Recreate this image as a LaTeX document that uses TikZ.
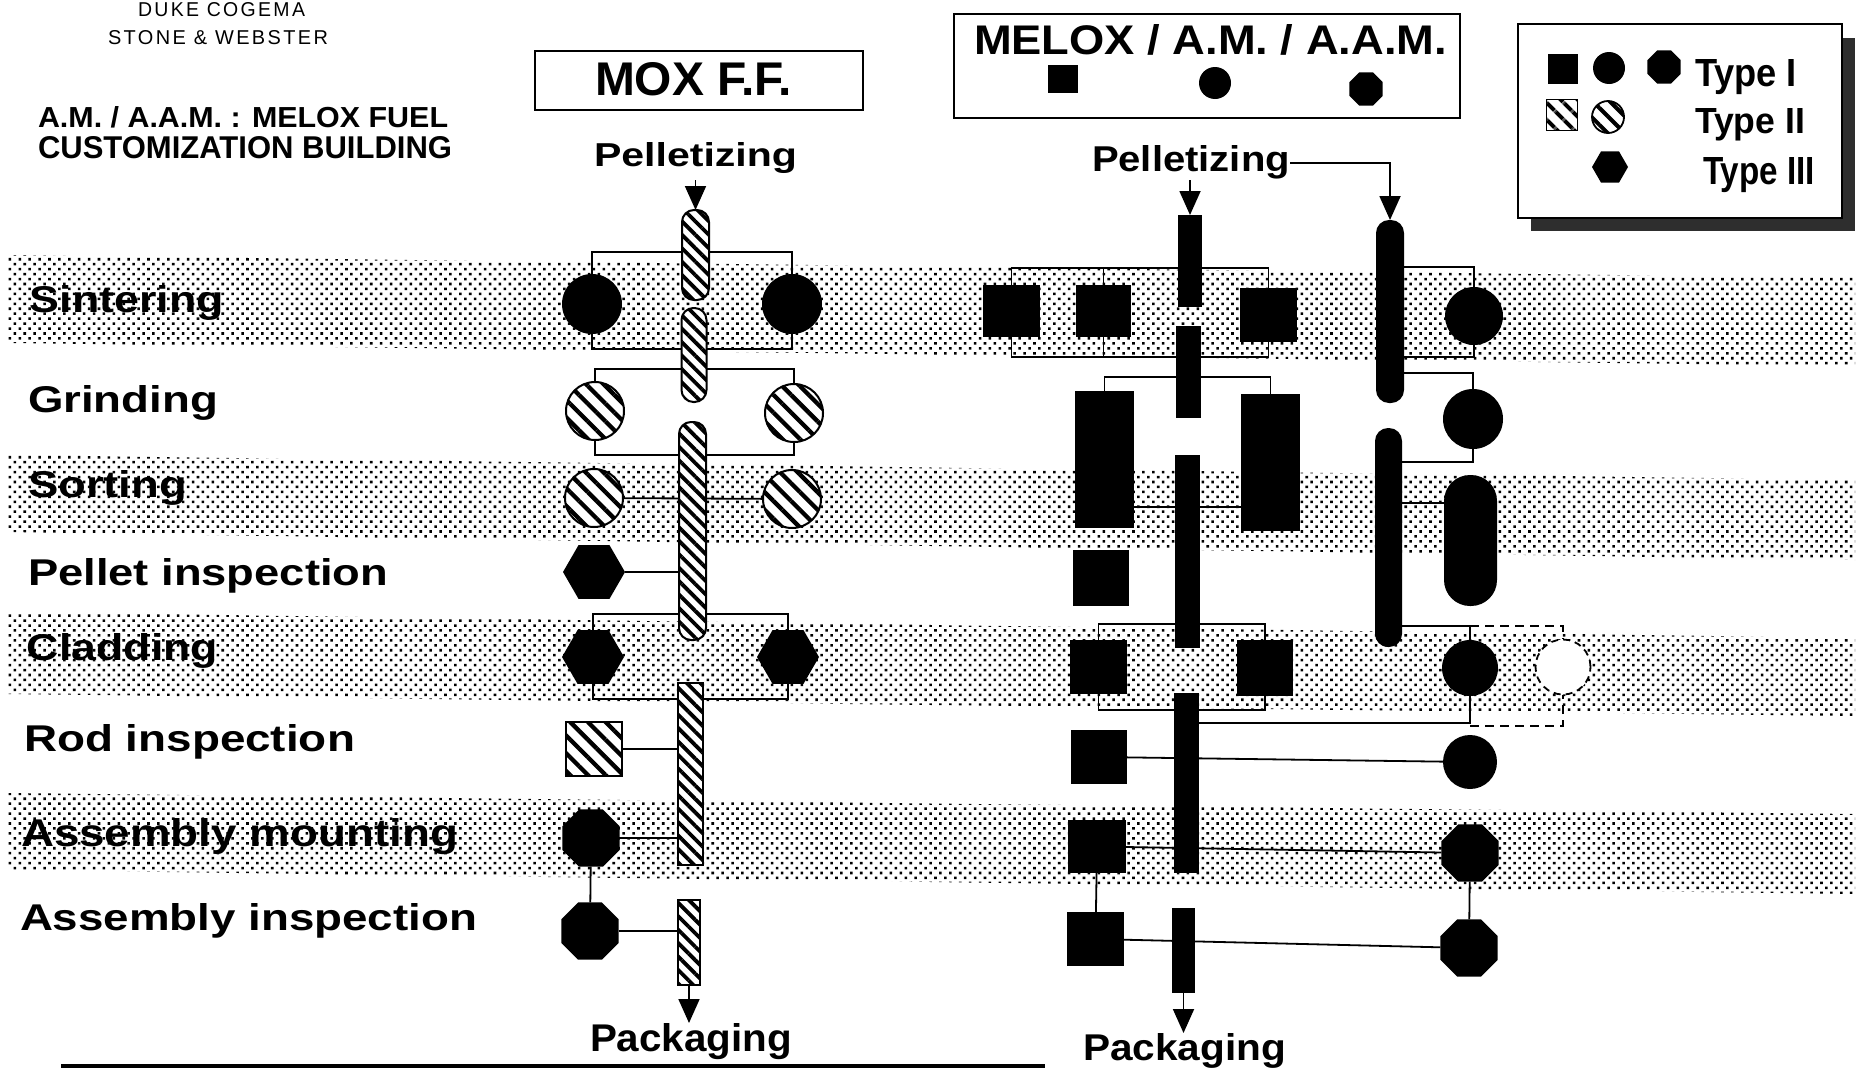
\documentclass[tikz,border=0pt]{standalone}
\usepackage{graphicx}
\usepackage{fontspec}
\setmainfont{Liberation Sans}
\newfontfamily\lightspaced[LetterSpace=12]{Liberation Sans}
\usetikzlibrary{shapes.geometric,patterns.meta,arrows.meta}
% scale a text to a given ink width and cap height (in pt)
\newcommand\fitbox[3]{\resizebox{#1pt}{#2pt}{#3}}
\pgfdeclarelayer{bands}
\pgfdeclarelayer{links}
\pgfsetlayers{bands,links,main}

\tikzset{
  lbl/.style={anchor=base west, inner sep=0pt, outer sep=0pt, font=\bfseries},
  link/.style={line width=1.8pt},
  dlink/.style={line width=1.8pt, dash pattern=on 9pt off 6pt},
  arr/.style={line width=1.8pt, -{Triangle[length=24pt,width=21pt]}},
  band/.style={pattern={Dots[angle=45,distance=7pt,radius=1.8pt]}},
  frame/.style={draw, line width=2pt, fill=white},
  blk/.style={fill=black, inner sep=0pt, outer sep=0pt},
  blksq/.style={blk, rectangle},
  bdisc/.style={blk, circle},
  bcap/.style={blk, rectangle, rounded corners=#1},
  octa/.style={blk, regular polygon, regular polygon sides=8},
  hexa/.style={blk, regular polygon, regular polygon sides=6},
  hatch/.style 2 args={draw, line width=2pt, inner sep=0pt, outer sep=0pt,
    preaction={fill=white},
    pattern={Lines[angle=-45,distance=#1,line width=#2]}},
  hcap/.style={hatch={9.5pt}{3.8pt}, rectangle, rounded corners=12pt},
  hbar/.style={hatch={9.5pt}{3.8pt}, rectangle},
  hdisc/.style={hatch={12.5pt}{4.3pt}, circle},
  hsq/.style={hatch={12.5pt}{4.3pt}, rectangle},
  ghost/.style={circle, fill=white, draw, line width=1.8pt,
    dash pattern=on 7pt off 5pt, inner sep=0pt},
}

\begin{document}
\begin{tikzpicture}[x=1pt,y=-1pt]
\useasboundingbox (0,0) rectangle (1862,1071);

\begin{pgfonlayer}{bands}
  \fill[white] (0,0) rectangle (1862,1071);
  % dotted stage bands
  \fill[band] (8,255) -- (1855,278) -- (1855,366) -- (8,343) -- cycle;
  \fill[band] (8,455) -- (1855,480) -- (1855,560) -- (8,532) -- cycle;
  \fill[band] (8,612) -- (1855,638) -- (1855,716) -- (8,694) -- cycle;
  \fill[band] (8,793) -- (1855,814) -- (1855,894) -- (8,870) -- cycle;
\end{pgfonlayer}

% ---------- headings ----------
\node[lbl, font=\lightspaced] (duke) at (138,16) {\fitbox{167}{14}{DUKE COGEMA}};
\node[lbl, font=\lightspaced] (stone) at (108,44) {\fitbox{220}{14}{STONE \& WEBSTER}};
\node[lbl] (amA) at (38,127) {\fitbox{410}{21}{A.M. / A.A.M. : MELOX FUEL}};
\node[lbl] (amB) at (38,158) {\fitbox{414}{22}{CUSTOMIZATION BUILDING}};

% ---------- stage labels ----------
\node[lbl] (tS) at (30,312) {\fitbox{194}{27}{Sintering}};
\node[lbl] (tG) at (28,412) {\fitbox{190}{27}{Grinding}};
\node[lbl] (tR) at (28,497) {\fitbox{159}{27}{Sorting}};
\node[lbl] (tP) at (28,585) {\fitbox{360}{27}{Pellet inspection}};
\node[lbl] (tC) at (27,660) {\fitbox{191}{27}{Cladding}};
\node[lbl] (tRod) at (24,751) {\fitbox{331}{27}{Rod inspection}};
\node[lbl] (tAM) at (21,846) {\fitbox{437}{28}{Assembly mounting}};
\node[lbl] (tAI) at (20,930) {\fitbox{457}{27}{Assembly inspection}};

% ---------- MOX F.F. column ----------
\draw[frame] (535,51) rectangle (863,110);
\node[lbl] (moxT) at (595,95) {\fitbox{197}{33}{MOX F.F.}};
\node[lbl] (pelA) at (594,166) {\fitbox{203}{24}{Pelletizing}};
\node[lbl] (packA) at (590,1051) {\fitbox{202}{28}{Packaging}};

\node[bdisc, minimum size=60pt] (mS1) at (592,304) {};
\node[bdisc, minimum size=60pt] (mS2) at (792,304) {};
\node[hcap, minimum width=27pt, minimum height=90pt] (mC1) at (695.5,255) {};
\node[hcap, minimum width=25pt, minimum height=94pt] (mC2) at (694,355) {};
\node[hdisc, minimum size=58pt] (mG1) at (595,411) {};
\node[hdisc, minimum size=58pt] (mG2) at (794,413) {};
\node[hdisc, minimum size=58pt] (mR1) at (594,498) {};
\node[hdisc, minimum size=58pt] (mR2) at (792,499) {};
\node[hcap, minimum width=27pt, minimum height=218pt] (mC3) at (692.5,531) {};
\node[hexa, minimum size=62pt] (mP) at (594,572) {};
\node[hexa, minimum size=62pt] (mK1) at (593,657) {};
\node[hexa, minimum size=62pt] (mK2) at (788,657) {};
\node[hsq, minimum width=56pt, minimum height=54pt] (mRod) at (594,749) {};
\node[hbar, minimum width=25pt, minimum height=182pt] (mB4) at (690.5,774) {};
\node[octa, minimum size=62pt] (mAM) at (591,838) {};
\node[octa, minimum size=62pt] (mAI) at (590,931) {};
\node[hbar, minimum width=22pt, minimum height=85pt] (mB5) at (689,942.5) {};
\coordinate (mIn) at (695.5,180);

% ---------- MELOX / A.M. / A.A.M. columns ----------
\draw[frame] (954,14) rectangle (1460,118);
\node[lbl] (meloxT) at (974,54) {\fitbox{473}{30}{MELOX / A.M. / A.A.M.}};
\node[blksq, minimum width=30pt, minimum height=28pt] (tSq) at (1063,79) {};
\node[bdisc, minimum size=32pt] (tCi) at (1215,83) {};
\node[octa, minimum size=36pt] (tOc) at (1366,89) {};
\node[lbl] (pelB) at (1092,171) {\fitbox{198}{26}{Pelletizing}};
\node[lbl] (packB) at (1083,1060) {\fitbox{203}{27}{Packaging}};

\node[blksq, minimum width=57pt, minimum height=52pt] (xS1) at (1011.5,311) {};
\node[blksq, minimum width=55pt, minimum height=52pt] (xS2) at (1103.5,311) {};
\node[blksq, minimum width=57pt, minimum height=54pt] (xS3) at (1268.5,315) {};
\node[blksq, minimum width=24pt, minimum height=92pt] (xB1) at (1190,261) {};
\node[blksq, minimum width=25pt, minimum height=92pt] (xB2) at (1188.5,372) {};
\node[blksq, minimum width=59pt, minimum height=137pt] (xG1) at (1104.5,459.5) {};
\node[blksq, minimum width=59pt, minimum height=137pt] (xG2) at (1270.5,462.5) {};
\node[blksq, minimum width=25pt, minimum height=193pt] (xB3) at (1187.5,551.5) {};
\node[blksq, minimum size=56pt] (xP) at (1101,578) {};
\node[blksq, minimum width=57pt, minimum height=54pt] (xK1) at (1098.5,667) {};
\node[blksq, minimum size=56pt] (xK2) at (1265,668) {};
\node[blksq, minimum width=25pt, minimum height=180pt] (xB4) at (1186.5,783) {};
\node[blksq, minimum width=56pt, minimum height=54pt] (xRod) at (1099,757) {};
\node[blksq, minimum width=58pt, minimum height=53pt] (xAM) at (1097,846.5) {};
\node[blksq, minimum width=57pt, minimum height=54pt] (xAI) at (1095.5,939) {};
\node[blksq, minimum width=23pt, minimum height=85pt] (xB5) at (1183.5,950.5) {};
\coordinate (xIn) at (1190,180);

\node[bcap=13pt, minimum width=28pt, minimum height=183pt] (yC1) at (1390,311.5) {};
\node[bcap=13pt, minimum width=27pt, minimum height=219pt] (yC2) at (1388.5,537.5) {};
\node[bdisc, minimum size=58pt] (yS) at (1474,316) {};
\node[bdisc, minimum size=60pt] (yG) at (1473,419) {};
\node[bcap=26pt, minimum width=53pt, minimum height=131pt] (yR) at (1470.5,540.5) {};
\node[bdisc, minimum size=56pt] (yK) at (1470,668) {};
\node[ghost, minimum size=55pt] (yKd) at (1563,667) {};
\node[bdisc, minimum size=54pt] (yRod) at (1470,762) {};
\node[octa, minimum size=62pt] (yAM) at (1470,853) {};
\node[octa, minimum size=62pt] (yAI) at (1469,948) {};

% ---------- legend ----------
\fill[black!82] (1531,38) rectangle (1855,231);
\draw[frame] (1518,24) rectangle (1842,218);
\node[blksq, minimum size=30pt] (lSq) at (1563,69) {};
\node[bdisc, minimum size=32pt] (lCi) at (1609,68) {};
\node[octa, minimum size=36pt] (lOc) at (1664,67) {};
\node[hatch={13pt}{4.5pt}, rectangle, minimum size=31pt, line width=1.6pt] (lHs) at (1562,115) {};
\node[hatch={12pt}{4pt}, circle, minimum size=32pt, line width=1.8pt] (lHc) at (1608,117) {};
\node[hexa, minimum size=36pt] (lHx) at (1610,167) {};
\node[lbl] (ty1) at (1695,86) {\fitbox{102}{27}{Type I}};
\node[lbl] (ty2) at (1695,133) {\fitbox{110}{25}{Type II}};
\node[lbl] (ty3) at (1703,184) {\fitbox{112}{27}{Type III}};

% bottom rule
\draw[line width=4.5pt] (61,1066) -- (1045,1066);

% ---------- connectors (behind the equipment) ----------
\begin{pgfonlayer}{links}
  % MOX F.F.
  \draw[arr] (mIn) -- (mC1.north);
  \draw[link] (mS1.north) |- (mS2.north |- 0,252) -- (mS2.north);
  \draw[link] (mS1.south) |- (mS2.south |- 0,349) -- (mS2.south);
  \draw[link] (mG1.north) |- (mG2.north |- 0,369) -- (mG2.north);
  \draw[link] (mG1.south) |- (mG2.south |- 0,455) -- (mG2.south);
  \draw[link] (mR1) -- (mR2);
  \draw[link] (mP) -- (mP -| mC3.center);
  \draw[link] (mK1.north) |- (mK2.north |- 0,614) -- (mK2.north);
  \draw[link] (mK1.south) |- (mK2.south |- 0,699) -- (mK2.south);
  \draw[link] (mRod) -- (mRod -| mB4.center);
  \draw[link] (mAM) -- (mAM -| mB4.center);
  \draw[link] (mAM) -- (mAI);
  \draw[link] (mAI) -- (mAI -| mB5.center);
  \draw[arr] (mB5.south) -- (mB5.south |- packA.north);
  % MELOX, left line
  \draw[arr] (xIn) -- (xB1.north);
  \draw[link] (xS1.north) |- (xS3.north |- 0,268) -- (xS3.north);
  \draw[link] (xS2.north) -- (xS2.north |- 0,268);
  \draw[link] (xS1.south) |- (xS3.south |- 0,357) -- (xS3.south);
  \draw[link] (xS2.south) -- (xS2.south |- 0,357);
  \draw[link] (xG1.north) |- (xG2.north |- 0,377) -- (xG2.north);
  \draw[link] (xG1.east |- 0,507) -- (xG2.west |- 0,507);
  \draw[link] (xK1.north) |- (xK2.north |- 0,624) -- (xK2.north);
  \draw[link] (xK1.south) |- (xK2.south |- 0,710) -- (xK2.south);
  \draw[link] (xRod) -- (yRod);
  \draw[link] (xAM) -- (yAM);
  \draw[link] (xAM) -- (xAI);
  \draw[link] (xAI) -- (yAI);
  \draw[link] (yAM) -- (yAI);
  \draw[arr] (xB5.south) -- (xB5.south |- packB.north);
  % MELOX, right line
  \draw[arr] (pelB.east |- 0,163) -| (yC1.north);
  \draw[link] (yC1.east |- 0,267) -| (yS.north);
  \draw[link] (yC1.east |- 0,357) -| (yS.south);
  \draw[link] (yC1.east |- 0,373) -| (yG.north);
  \draw[link] (yC2.east |- 0,462) -| (yG.south);
  \draw[link] (yC2.east |- 0,503) -- (yR.west |- 0,503);
  \draw[link] (yC2.east |- 0,626) -| (yK.north);
  \draw[link] (xB4.east |- 0,723) -| (yK.south);
  \draw[dlink] (yK.north |- 0,626) -| (yKd.north);
  \draw[dlink] (yK.south |- 0,726) -| (yKd.south);
\end{pgfonlayer}
\end{tikzpicture}
\end{document}
